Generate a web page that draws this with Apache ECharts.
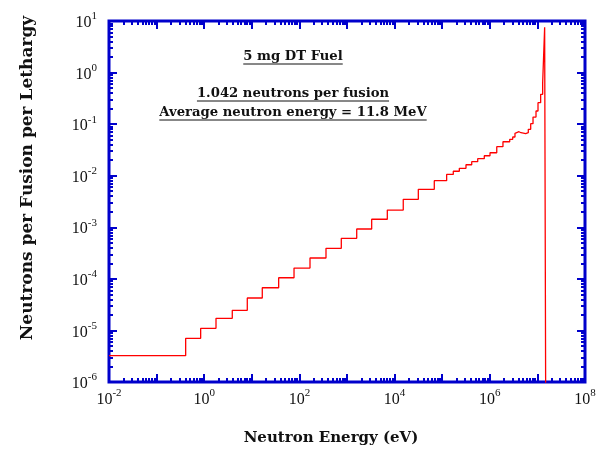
<!DOCTYPE html>
<html><head><meta charset="utf-8">
<script src="https://cdn.jsdelivr.net/npm/echarts@6/dist/echarts.min.js"></script>
<style>html,body{margin:0;padding:0;background:#fff}#c{width:604px;height:450px}</style>
</head><body><div id="c"></div>
<script>
// Bin edges (eV) of the step histogram; one more edge than values
const binEdges = [0.01, 0.408, 0.843, 1.77, 3.89, 8.04, 16.6, 36.7, 77.1, 167, 362, 759, 1600, 3300, 7030, 15200, 31500, 68200,
  1.24e5, 1.71e5, 2.29e5, 3.16e5, 4.17e5, 5.57e5, 7.66e5, 1.01e6, 1.40e6, 1.89e6, 2.62e6, 3.03e6, 3.38e6, 3.72e6, 4.10e6,
  4.52e6, 5.67e6, 6.44e6, 7.23e6, 8.09e6, 9.35e6, 1.03e7, 1.17e7, 1.29e7, 1.42e7, 1.52e7];
// Neutrons per fusion per lethargy in each bin
const binValues = [3.24e-6, 7.03e-6, 1.10e-5, 1.72e-5, 2.45e-5, 4.25e-5, 6.73e-5, 1.05e-4, 1.62e-4, 2.54e-4, 3.91e-4, 6.11e-4,
  9.27e-4, 1.43e-3, 2.16e-3, 3.49e-3, 5.45e-3, 8.00e-3, 1.06e-2, 1.22e-2, 1.39e-2, 1.63e-2, 1.87e-2, 2.14e-2, 2.44e-2,
  2.79e-2, 3.65e-2, 4.56e-2, 5.08e-2, 5.63e-2, 6.64e-2, 7.13e-2, 6.82e-2, 6.53e-2, 6.82e-2, 7.94e-2, 0.102, 0.137, 0.180,
  0.261, 0.379, 0.637, 7.55];
const zeroFloor = 1e-9; // value past the last edge (zero flux, below the log axis)
const xLabelExp = [-2, 0, 2, 4, 6, 8];
const xMajorExp = [-2, -1, 0, 1, 2, 3, 4, 5, 6, 7, 8];
const yLabelExp = [-6, -5, -4, -3, -2, -1, 0, 1];
const xTitle = 'Neutron Energy (eV)';
const yTitle = 'Neutrons per Fusion per Lethargy';
const notes = ['5 mg DT Fuel', '1.042 neutrons per fusion', 'Average neutron energy = 11.8 MeV'];

const BLUE = '#0000cc';
function minorExp(a, b) { const r = []; for (let d = a; d < b; d++) for (let k = 2; k <= 9; k++) r.push(d + Math.log10(k)); return r; }
const xMinor = minorExp(-2, 8), yMinor = minorExp(-6, 1);

const seriesData = binValues.map((v, i) => [binEdges[i], v]);
seriesData.push([binEdges[binEdges.length - 1], zeroFloor]);

const rich = {
  b: { fontFamily: 'Liberation Serif', fontSize: 16, color: '#111', lineHeight: 20, verticalAlign: 'bottom' },
  s: { fontFamily: 'Liberation Serif', fontSize: 11, color: '#111', lineHeight: 12, verticalAlign: 'top' }
};
const fmt = v => '{b|10}{s|' + v + '}';

function tickAxis(pos, min, max, values, len, labels, margin) {
  return {
    type: 'value', position: pos, min: min, max: max,
    axisLine: { show: false, onZero: false }, splitLine: { show: false },
    axisTick: { show: true, inside: true, length: len, customValues: values, lineStyle: { color: BLUE, width: 2 } },
    axisLabel: labels ? { show: true, customValues: labels, formatter: fmt, rich: rich, margin: margin } : { show: false }
  };
}

const noteFont = 'bold 13.2px "DejaVu Serif"';
const ctx = document.createElement('canvas').getContext('2d');
ctx.font = noteFont;
const noteY = [57, 94, 113];
const noteX = 293;
const graphics = [];
notes.forEach((t, i) => {
  const w = ctx.measureText(t).width;
  graphics.push({ type: 'text', x: noteX, y: noteY[i], style: { text: t, font: noteFont, fill: '#111', align: 'center', verticalAlign: 'middle' } });
  graphics.push({ type: 'line', shape: { x1: noteX - w / 2, y1: noteY[i] + 7, x2: noteX + w / 2, y2: noteY[i] + 7 }, style: { stroke: '#111', lineWidth: 1 } });
});
graphics.push({ type: 'text', x: 331, y: 438, style: { text: xTitle, font: 'bold 15px "DejaVu Serif"', fill: '#111', align: 'center', verticalAlign: 'middle' } });
graphics.push({ type: 'text', x: 28, y: 178, rotation: Math.PI / 2, style: { text: yTitle, font: 'bold 17px "DejaVu Serif"', fill: '#111', align: 'center', verticalAlign: 'middle' } });

const chart = echarts.init(document.getElementById('c'), null, { renderer: 'canvas' });
chart.setOption({
  animation: false,
  backgroundColor: '#fff',
  grid: { left: 109, right: 19, top: 21, bottom: 68, show: true, borderColor: BLUE, borderWidth: 3, backgroundColor: 'transparent' },
  xAxis: [
    { type: 'log', min: 1e-2, max: 1e8, axisLine: { show: false, onZero: false }, axisTick: { show: false }, axisLabel: { show: false }, splitLine: { show: false } },
    tickAxis('bottom', -2, 8, xMajorExp, 8, xLabelExp, 6),
    tickAxis('bottom', -2, 8, xMinor, 4),
    tickAxis('top', -2, 8, xMajorExp, 8),
    tickAxis('top', -2, 8, xMinor, 4)
  ],
  yAxis: [
    { type: 'log', min: 1e-6, max: 10, axisLine: { show: false, onZero: false }, axisTick: { show: false }, axisLabel: { show: false }, splitLine: { show: false } },
    tickAxis('left', -6, 1, yLabelExp, 8, yLabelExp, 12),
    tickAxis('left', -6, 1, yMinor, 4),
    tickAxis('right', -6, 1, yLabelExp, 8),
    tickAxis('right', -6, 1, yMinor, 4)
  ],
  graphic: graphics,
  series: [{
    type: 'line', xAxisIndex: 0, yAxisIndex: 0, data: seriesData, step: 'end', symbol: 'none', clip: true,
    lineStyle: { color: '#ff0000', width: 1.3 }
  }]
});
</script></body></html>
